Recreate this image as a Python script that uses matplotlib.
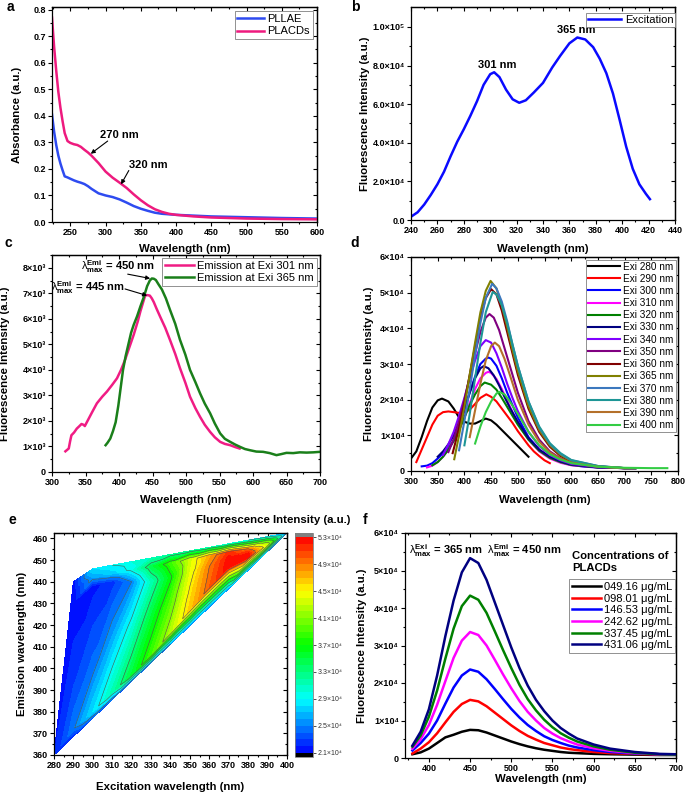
import numpy as np
import matplotlib
matplotlib.use('Agg')
import matplotlib.pyplot as plt
import matplotlib.tri as mtri
from matplotlib.colors import LinearSegmentedColormap

plt.rcParams['font.family'] = ['Liberation Sans', 'DejaVu Sans']
plt.rcParams['mathtext.fontset'] = 'custom'
plt.rcParams['mathtext.rm'] = 'Liberation Sans'
plt.rcParams['mathtext.bf'] = 'Liberation Sans:bold'
plt.rcParams['mathtext.it'] = 'Liberation Sans:italic'
plt.rcParams['axes.linewidth'] = 0.9

# ---------------- data ----------------
# a: absorbance
a_wl = [224, 227, 230, 233, 236, 239, 242, 246, 250, 255, 260, 265, 270, 275, 280, 290, 300, 310,
        320, 330, 340, 350, 360, 370, 380, 390, 400, 425, 450, 500, 550, 600]
a_pllae = [0.405, 0.34, 0.29, 0.25, 0.22, 0.195, 0.172, 0.168, 0.163, 0.157, 0.152, 0.148, 0.143,
           0.135, 0.125, 0.108, 0.1, 0.094, 0.085, 0.073, 0.06, 0.05, 0.042, 0.035, 0.031, 0.029,
           0.027, 0.024, 0.021, 0.018, 0.015, 0.013]
a_placd = [0.77, 0.66, 0.57, 0.49, 0.43, 0.38, 0.335, 0.305, 0.298, 0.293, 0.29, 0.283, 0.272, 0.262,
           0.25, 0.222, 0.19, 0.167, 0.148, 0.128, 0.104, 0.082, 0.063, 0.048, 0.038, 0.031, 0.027,
           0.021, 0.017, 0.013, 0.011, 0.01]

# b: excitation spectrum (x1e4)
b_wl = [240, 245, 250, 255, 260, 265, 270, 275, 280, 285, 290, 295, 300, 303, 307, 312, 317, 322,
        327, 333, 340, 347, 353, 360, 366, 372, 378, 383, 388, 393, 398, 403, 408, 413, 418, 421]
b_int = [0.17, 0.4, 0.8, 1.3, 1.85, 2.5, 3.3, 4.05, 4.7, 5.4, 6.15, 7.0, 7.55, 7.65, 7.4, 6.75,
         6.25, 6.07, 6.2, 6.6, 7.1, 7.9, 8.5, 9.15, 9.45, 9.35, 8.95, 8.35, 7.6, 6.55, 5.2, 3.8,
         2.65, 1.85, 1.35, 1.08]

# c: emission at two excitations (x1e3)
c_wl_301 = [320, 325, 327, 329, 333, 337, 341, 344, 347, 349, 353, 360, 367, 375, 382, 390, 397,
            403, 409, 415, 422, 428, 432, 436, 439, 442, 446, 449, 452, 456, 462, 469, 476, 484,
            491, 499, 506, 514, 521, 528, 536, 543, 551, 558, 566, 573, 580]
c_int_301 = [0.81, 0.92, 1.2, 1.44, 1.55, 1.7, 1.8, 1.88, 1.85, 1.8, 2.0, 2.35, 2.69, 2.95, 3.15,
             3.42, 3.67, 4.0, 4.39, 4.85, 5.38, 5.9, 6.3, 6.65, 6.91, 6.93, 6.91, 6.8, 6.65, 6.4,
             6.05, 5.65, 5.18, 4.62, 4.07, 3.5, 2.95, 2.5, 2.16, 1.85, 1.57, 1.36, 1.18, 1.1, 1.05,
             0.98, 0.92]
c_wl_365 = [380, 383, 387, 391, 395, 399, 402, 406, 410, 414, 418, 422, 427, 432, 437, 442, 446,
            449, 452, 455, 459, 464, 470, 476, 484, 491, 499, 506, 514, 521, 528, 536, 543, 551,
            558, 566, 573, 581, 588, 596, 605, 615, 625, 635, 642, 650, 660, 670, 680, 690, 700]
c_int_365 = [1.05, 1.15, 1.31, 1.6, 1.95, 2.6, 3.2, 4.0, 4.55, 5.0, 5.45, 5.77, 6.1, 6.49, 6.85,
             7.28, 7.5, 7.58, 7.57, 7.52, 7.35, 7.15, 6.8, 6.36, 5.8, 5.18, 4.6, 4.0, 3.52, 3.08,
             2.68, 2.3, 1.9, 1.51, 1.3, 1.18, 1.08, 0.98, 0.9, 0.85, 0.8, 0.79, 0.74, 0.66, 0.7,
             0.75, 0.74, 0.77, 0.76, 0.77, 0.79]

# d: emission at different excitation wavelengths (x1e4)
d_labels = ['Exi 280 nm', 'Exi 290 nm', 'Exi 300 nm', 'Exi 310 nm', 'Exi 320 nm', 'Exi 330 nm',
            'Exi 340 nm', 'Exi 350 nm', 'Exi 360 nm', 'Exi 365 nm', 'Exi 370 nm', 'Exi 380 nm',
            'Exi 390 nm', 'Exi 400 nm']
d_wl = [
    [300, 310, 320, 330, 340, 350, 358, 370, 380, 390, 400, 410, 420, 430, 440, 450, 460, 470, 480,
     490, 500, 510, 520],
    [310, 320, 330, 340, 350, 360, 370, 380, 390, 400, 410, 420, 430, 441, 450, 460, 470, 480, 490,
     500, 510, 520, 530, 540, 550, 560],
    [320, 330, 340, 350, 360, 370, 380, 390, 400, 410, 420, 430, 440, 445, 450, 460, 470, 480, 490,
     500, 520, 540, 560, 580, 600, 625, 650, 700, 720],
    [330, 340, 350, 360, 370, 380, 390, 400, 410, 420, 430, 440, 445, 450, 460, 470, 480, 490, 500,
     520, 540, 560, 580, 600, 650, 700, 720],
    [340, 350, 360, 370, 380, 390, 400, 410, 420, 430, 438, 450, 460, 470, 480, 490, 500, 520, 540,
     560, 580, 600, 650, 700, 720],
    [350, 360, 370, 380, 390, 400, 410, 420, 430, 436, 445, 455, 465, 475, 485, 500, 520, 540, 560,
     580, 600, 650, 700, 720],
    [360, 370, 380, 390, 400, 410, 420, 430, 440, 450, 460, 470, 480, 490, 500, 520, 540, 560, 580,
     600, 650, 700, 720],
    [370, 380, 390, 400, 410, 420, 430, 440, 447, 455, 465, 475, 485, 500, 520, 540, 560, 580, 600,
     650, 700, 720],
    [378, 390, 400, 410, 420, 430, 440, 450, 460, 470, 480, 490, 500, 520, 540, 560, 580, 600, 650,
     700, 720],
    [381, 390, 400, 410, 420, 430, 440, 449, 460, 470, 480, 490, 500, 520, 540, 560, 580, 600, 650,
     700, 720],
    [390, 400, 410, 420, 430, 440, 452, 460, 470, 480, 490, 500, 520, 540, 560, 580, 600, 650, 700,
     720],
    [400, 410, 420, 430, 440, 453, 460, 470, 480, 490, 500, 520, 540, 560, 580, 600, 650, 700, 720],
    [410, 420, 430, 440, 450, 457, 465, 475, 485, 500, 520, 540, 560, 580, 600, 650, 700, 720],
    [420, 430, 440, 450, 460, 465, 475, 485, 500, 520, 540, 560, 580, 600, 650, 700, 750, 780],
]
d_int = [
    [0.35, 0.55, 0.95, 1.4, 1.78, 1.98, 2.03, 1.95, 1.75, 1.5, 1.38, 1.33, 1.33, 1.4, 1.47, 1.42,
     1.3, 1.15, 1.0, 0.85, 0.7, 0.55, 0.4],
    [0.25, 0.6, 0.95, 1.3, 1.55, 1.65, 1.67, 1.65, 1.63, 1.64, 1.72, 1.88, 2.05, 2.15, 2.08, 1.95,
     1.75, 1.55, 1.35, 1.12, 0.92, 0.72, 0.55, 0.42, 0.3, 0.22],
    [0.13, 0.15, 0.22, 0.35, 0.5, 0.65, 0.85, 1.2, 1.7, 2.2, 2.65, 3.0, 3.15, 3.18, 3.15, 2.95, 2.6,
     2.2, 1.85, 1.5, 0.95, 0.6, 0.38, 0.25, 0.17, 0.12, 0.1, 0.08, 0.08],
    [0.1, 0.15, 0.25, 0.4, 0.6, 0.85, 1.15, 1.5, 1.9, 2.3, 2.6, 2.75, 2.78, 2.75, 2.58, 2.3, 1.98,
     1.65, 1.35, 0.88, 0.55, 0.35, 0.23, 0.16, 0.1, 0.08, 0.08],
    [0.16, 0.25, 0.4, 0.6, 0.85, 1.15, 1.5, 1.85, 2.15, 2.38, 2.48, 2.42, 2.28, 2.05, 1.8, 1.55,
     1.3, 0.88, 0.57, 0.37, 0.25, 0.17, 0.1, 0.08, 0.08],
    [0.4, 0.55, 0.75, 1.0, 1.35, 1.75, 2.2, 2.6, 2.88, 2.94, 2.88, 2.68, 2.4, 2.08, 1.78, 1.38,
     0.92, 0.6, 0.4, 0.27, 0.18, 0.1, 0.08, 0.08],
    [0.45, 0.75, 1.1, 1.55, 2.05, 2.6, 3.1, 3.5, 3.67, 3.6, 3.3, 2.9, 2.45, 2.05, 1.68, 1.1, 0.7,
     0.45, 0.3, 0.2, 0.11, 0.08, 0.08],
    [0.53, 0.9, 1.4, 2.0, 2.65, 3.3, 3.9, 4.3, 4.4, 4.3, 3.95, 3.45, 2.95, 2.2, 1.4, 0.88, 0.55,
     0.35, 0.23, 0.12, 0.08, 0.08],
    [0.5, 1.2, 1.9, 2.7, 3.5, 4.3, 4.85, 5.1, 4.95, 4.5, 3.9, 3.3, 2.7, 1.75, 1.1, 0.68, 0.42, 0.27,
     0.13, 0.08, 0.08],
    [0.33, 1.0, 1.8, 2.7, 3.6, 4.45, 5.05, 5.33, 5.12, 4.65, 4.05, 3.4, 2.8, 1.82, 1.15, 0.72, 0.45,
     0.28, 0.13, 0.08, 0.08],
    [0.58, 1.4, 2.3, 3.25, 4.15, 4.85, 5.25, 5.12, 4.75, 4.2, 3.55, 2.95, 1.95, 1.22, 0.76, 0.48,
     0.3, 0.14, 0.08, 0.08],
    [0.72, 1.6, 2.6, 3.6, 4.45, 5.02, 4.95, 4.65, 4.15, 3.55, 2.95, 1.95, 1.25, 0.78, 0.5, 0.31,
     0.14, 0.08, 0.08],
    [0.95, 1.7, 2.45, 3.1, 3.5, 3.6, 3.5, 3.15, 2.7, 2.0, 1.3, 0.82, 0.52, 0.34, 0.23, 0.12, 0.08,
     0.08],
    [0.77, 1.25, 1.65, 1.95, 2.17, 2.22, 2.15, 1.95, 1.6, 1.1, 0.72, 0.47, 0.32, 0.22, 0.12, 0.09,
     0.08, 0.08],
]
d_colors = ['#000000', '#FF0000', '#0000FF', '#FF00FF', '#008000', '#000080', '#8000FF', '#800080',
            '#800000', '#808000', '#3C78BE', '#1E9696', '#B4702A', '#33CC44']

# e: excitation-emission map (x1e4); each excitation column holds six points,
# from the lower (diagonal) edge up to the top edge
e_ex = [280,
        290, 290, 290, 290, 290, 290,
        300, 300, 300, 300, 300, 300,
        310, 310, 310, 310, 310, 310,
        320, 320, 320, 320, 320, 320,
        330, 330, 330, 330, 330, 330,
        340, 340, 340, 340, 340, 340,
        350, 350, 350, 350, 350, 350,
        360, 360, 360, 360, 360, 360,
        370, 370, 370, 370, 370, 370,
        380, 380, 380, 380, 380, 380,
        390, 390, 390, 390, 390, 390,
        400]
e_em = [360,
        368.54, 372, 395, 430, 436, 440,
        377.08, 380, 400, 438, 442, 446,
        385.63, 389, 415, 440, 444, 447.65,
        394.17, 397, 420, 440, 445.5, 449.3,
        402.71, 406, 425, 440, 447, 450.95,
        411.25, 416.3, 430, 442, 448.6, 452.6,
        419.79, 426.8, 435, 444, 450.25, 454.25,
        428.33, 437.3, 442, 447, 451.9, 455.9,
        436.88, 446.9, 449, 451, 453.55, 457.55,
        445.42, 451.4, 452.5, 453.8, 455.2, 459.2,
        453.96, 457, 457.8, 458.5, 459.2, 460.85,
        462.5]
e_val = [2.2,
         2.2, 2.48, 2.27, 2.13, 2.13, 2.13,
         2.35, 2.8, 2.45, 2.16, 2.6, 2.8,
         2.35, 3.14, 2.6, 2.25, 2.75, 2.9,
         2.4, 3.52, 2.98, 2.5, 2.95, 3.0,
         2.45, 3.88, 3.48, 3.1, 3.45, 3.1,
         2.5, 4.25, 3.95, 3.65, 3.85, 3.2,
         2.5, 4.65, 4.55, 4.4, 4.35, 3.2,
         2.5, 5.0, 4.95, 4.9, 4.75, 3.1,
         2.55, 5.28, 5.28, 5.25, 5.15, 3.0,
         2.55, 5.28, 5.28, 5.15, 4.9, 2.9,
         2.5, 4.3, 4.2, 4.0, 3.7, 2.8,
         2.4]
e_cticks = [2.1, 2.5, 2.9, 3.3, 3.7, 4.1, 4.5, 4.9, 5.3]

# f: concentration series (x1e4)
f_wl = [380, 390, 400, 410, 420, 430, 440, 450, 460, 470, 480, 490, 500, 510, 520, 530, 540, 550,
        560, 570, 580, 600, 620, 650, 680, 700]
f_labels = ['049.16 μg/mL', '098.01 μg/mL', '146.53 μg/mL', '242.62 μg/mL', '337.45 μg/mL',
            '431.06 μg/mL']
f_int = [
    [0.1, 0.15, 0.25, 0.4, 0.55, 0.62, 0.7, 0.75, 0.74, 0.68, 0.6, 0.52, 0.44, 0.37, 0.31, 0.26,
     0.22, 0.19, 0.16, 0.14, 0.13, 0.11, 0.1, 0.09, 0.08, 0.08],
    [0.12, 0.25, 0.42, 0.66, 0.95, 1.23, 1.44, 1.55, 1.51, 1.38, 1.21, 1.04, 0.87, 0.72, 0.59, 0.49,
     0.4, 0.34, 0.28, 0.24, 0.21, 0.16, 0.13, 0.11, 0.09, 0.09],
    [0.2, 0.4, 0.65, 1.0, 1.45, 1.88, 2.2, 2.36, 2.3, 2.1, 1.84, 1.57, 1.31, 1.08, 0.88, 0.72, 0.58,
     0.48, 0.4, 0.33, 0.28, 0.21, 0.16, 0.12, 0.1, 0.09],
    [0.25, 0.5, 0.88, 1.42, 2.05, 2.67, 3.13, 3.36, 3.28, 3.0, 2.62, 2.23, 1.86, 1.52, 1.23, 1.0,
     0.8, 0.65, 0.53, 0.44, 0.36, 0.26, 0.19, 0.13, 0.1, 0.09],
    [0.3, 0.6, 1.1, 1.8, 2.65, 3.45, 4.05, 4.33, 4.22, 3.87, 3.38, 2.88, 2.4, 1.95, 1.57, 1.27, 1.02,
     0.82, 0.66, 0.54, 0.44, 0.31, 0.22, 0.14, 0.1, 0.09],
    [0.33, 0.7, 1.3, 2.2, 3.25, 4.2, 4.95, 5.33, 5.2, 4.75, 4.15, 3.55, 2.95, 2.4, 1.93, 1.55, 1.25,
     1.0, 0.8, 0.65, 0.52, 0.36, 0.25, 0.16, 0.11, 0.1],
]
f_colors = ['#000000', '#FF0000', '#0000FF', '#FF00FF', '#008000', '#000080']

# tick labels
b_ylabels = ['0.0', '2.0×10⁴', '4.0×10⁴', '6.0×10⁴', '8.0×10⁴', '1.0×10⁵']
c_ylabels = ['0', '1×10³', '2×10³', '3×10³', '4×10³', '5×10³', '6×10³', '7×10³', '8×10³']
d_ylabels = ['0', '1×10⁴', '2×10⁴', '3×10⁴', '4×10⁴', '5×10⁴', '6×10⁴']

# ---------------- figure ----------------
W, H = 685, 794
fig = plt.figure(figsize=(W / 100, H / 100), dpi=100)


def px_axes(l, t, r, b):
    return fig.add_axes([l / W, 1 - b / H, (r - l) / W, (b - t) / H])


def setup(ax, xlim, ylim, xmaj, xmin, ymaj, ymin, ylabels=None):
    ax.set_xlim(xlim)
    ax.set_ylim(ylim)
    ax.set_xticks(xmaj)
    ax.set_xticks(xmin, minor=True)
    ax.set_yticks(ymaj)
    ax.set_yticks(ymin, minor=True)
    if ylabels is not None:
        ax.set_yticklabels(ylabels)
    ax.tick_params(which='both', direction='out', width=0.8, labelsize=6.5, pad=1.5)
    ax.tick_params(which='major', length=2.8)
    ax.tick_params(which='minor', length=1.6)
    for t in ax.get_xticklabels() + ax.get_yticklabels():
        t.set_fontweight('bold')
    top = ax.secondary_xaxis('top')
    top.set_xticks(xmaj)
    top.set_xticks(xmin, minor=True)
    top.tick_params(which='both', direction='in', labeltop=False, width=0.8)
    top.tick_params(which='major', length=2.8)
    top.tick_params(which='minor', length=1.6)
    right = ax.secondary_yaxis('right')
    right.set_yticks(ymaj)
    right.set_yticks(ymin, minor=True)
    right.tick_params(which='both', direction='in', labelright=False, width=0.8)
    right.tick_params(which='major', length=2.8)
    right.tick_params(which='minor', length=1.6)


def labels(ax, xl, yl, xoff, yoff, size=8.2):
    w = ax.get_position().width * W
    h = ax.get_position().height * H
    ax.set_xlabel(xl, fontsize=size, fontweight='bold', va='center')
    ax.set_ylabel(yl, fontsize=size, fontweight='bold', va='center')
    ax.xaxis.set_label_coords(0.5, -xoff / h)
    ax.yaxis.set_label_coords(-yoff / w, 0.5)


leg_kw = dict(fancybox=False, framealpha=1, edgecolor='#808080', borderpad=0.25,
              handletextpad=0.3, borderaxespad=0.4)

# ---- a ----
ax = px_axes(52, 7, 317, 222)
ax.plot(a_wl, a_pllae, color='#2E4BF0', lw=1.8, label='PLLAE')
ax.plot(a_wl, a_placd, color='#EE1A7E', lw=1.8, label='PLACDs')
setup(ax, (224, 600), (0, 0.81), np.arange(250, 601, 50), np.arange(225, 601, 25),
      np.arange(0, 0.81, 0.1), np.arange(0, 0.81, 0.05),
      ['0.0', '0.1', '0.2', '0.3', '0.4', '0.5', '0.6', '0.7', '0.8'])
labels(ax, 'Wavelength (nm)', 'Absorbance (a.u.)', 27, 35)
lg = ax.legend(loc='upper right', fontsize=8, handlelength=2.4, labelspacing=0.2, **leg_kw)
lg.get_frame().set_linewidth(0.6)
arrow = dict(arrowstyle='-|>', color='black', lw=0.8, mutation_scale=6, shrinkA=0, shrinkB=0)
ax.annotate('', xy=(279, 0.257), xytext=(303, 0.305), arrowprops=arrow)
ax.text(320, 0.326, '270 nm', fontsize=8, fontweight='bold', ha='center', va='center')
ax.annotate('', xy=(322, 0.142), xytext=(333, 0.194), arrowprops=arrow)
ax.text(360, 0.213, '320 nm', fontsize=8, fontweight='bold', ha='center', va='center')

# ---- b ----
ax = px_axes(411, 7, 675, 220)
ax.plot(b_wl, np.array(b_int) * 1e4, color='#0A0AFF', lw=1.8, label='Excitation')
setup(ax, (240, 440), (0, 1.103e5), np.arange(240, 441, 20), np.arange(240, 441, 10),
      np.arange(0, 1.01e5, 2e4), np.arange(0, 1.1e5, 1e4), b_ylabels)
labels(ax, 'Wavelength (nm)', 'Fluorescence Intensity (a.u.)', 29, 46)
lg = ax.legend(loc='upper right', fontsize=8, handlelength=3.0, labelspacing=0.2,
               bbox_to_anchor=(1.0, 0.97), **{**leg_kw, 'borderaxespad': 0.0, 'borderpad': 0.15})
lg.get_frame().set_linewidth(0.6)
ax.text(305.6, 8.05e4, '301 nm', fontsize=8, fontweight='bold', ha='center', va='center')
ax.text(365.4, 9.86e4, '365 nm', fontsize=8, fontweight='bold', ha='center', va='center')

# ---- c ----
ax = px_axes(52, 255, 320, 472)
ax.plot(c_wl_301, np.array(c_int_301) * 1e3, color='#F01C84', lw=1.8, label='Emission at Exi 301 nm')
ax.plot(c_wl_365, np.array(c_int_365) * 1e3, color='#1A7F1A', lw=1.8, label='Emission at Exi 365 nm')
setup(ax, (300, 700), (0, 8.5e3), np.arange(300, 701, 50), np.arange(300, 701, 25),
      np.arange(0, 8.1e3, 1e3), np.arange(0, 8.6e3, 500), c_ylabels)
labels(ax, 'Wavelength (nm)', 'Fluorescence Intensity (a.u.)', 28, 47)
lg = ax.legend(loc='upper right', fontsize=8, handlelength=2.6, labelspacing=0.15,
               **{**leg_kw, 'borderaxespad': 0.3})
lg.get_frame().set_linewidth(0.6)
ax.annotate('', xy=(446.5, 7.58e3), xytext=(413, 7.75e3), arrowprops=arrow)
ax.text(454, 8.06e3, r'$\mathrm{λ}_{\mathbf{max}}^{\mathbf{Emi}}$ = 450 nm', fontsize=8,
        fontweight='bold', ha='right', va='center')
ax.annotate('', xy=(442, 6.91e3), xytext=(409, 7.17e3), arrowprops=arrow)
ax.text(409, 7.23e3, r'$\mathrm{λ}_{\mathbf{max}}^{\mathbf{Emi}}$ = 445 nm', fontsize=8,
        fontweight='bold', ha='right', va='center')

# ---- d ----
ax = px_axes(411, 257, 678, 471)
for wl, it, lab, col in zip(d_wl, d_int, d_labels, d_colors):
    ax.plot(wl, np.array(it) * 1e4, color=col, lw=1.5, label=lab)
setup(ax, (300, 800), (0, 6e4), np.arange(300, 801, 50), np.arange(300, 801, 25),
      np.arange(0, 6.1e4, 1e4), np.arange(0, 6.1e4, 5e3), d_ylabels)
labels(ax, 'Wavelength (nm)', 'Fluorescence Intensity (a.u.)', 29, 42)
lg = ax.legend(loc='upper right', fontsize=7.2, handlelength=3.2, labelspacing=0.22,
               **{**leg_kw, 'borderaxespad': 0.25, 'borderpad': 0.2})
lg.get_frame().set_linewidth(0.6)

# ---- e ----
ax = px_axes(54, 533, 287, 755)
cmap = LinearSegmentedColormap.from_list('rainbow_origin',
                                         ['#0000FF', '#00FFFF', '#00FF00', '#FFFF00', '#FF0000'])
cmap.set_under('#000000')
cmap.set_over('#808080')
# triangles join neighbouring excitation columns point by point
ex_arr = np.array(e_ex)
cols = [np.where(ex_arr == v)[0] for v in sorted(set(e_ex))]
triangles = []
for ca, cb_ in zip(cols[:-1], cols[1:]):
    if len(ca) == 1:
        for k in range(len(cb_) - 1):
            triangles.append([ca[0], cb_[k], cb_[k + 1]])
    elif len(cb_) == 1:
        for k in range(len(ca) - 1):
            triangles.append([ca[k], cb_[0], ca[k + 1]])
    else:
        for k in range(len(ca) - 1):
            triangles.append([ca[k], cb_[k], cb_[k + 1]])
            triangles.append([ca[k], cb_[k + 1], ca[k + 1]])
tri = mtri.Triangulation(e_ex, e_em, triangles)
z = np.array(e_val) * 1e4
levels = np.linspace(2.1e4, 5.3e4, 33)
cs = ax.tricontourf(tri, z, levels=levels, cmap=cmap, extend='both')
ax.tricontour(tri, z, levels=np.array(e_cticks[1:-1]) * 1e4, colors='#505050', linewidths=0.4)
setup(ax, (280, 400), (360, 462.5), np.arange(280, 401, 10), np.arange(280, 401, 5),
      np.arange(360, 461, 10), np.arange(360, 463, 5))
labels(ax, 'Excitation wavelength (nm)', 'Emission wavelength (nm)', 32, 32)
cax = px_axes(295, 533, 313, 757)
cb = fig.colorbar(cs, cax=cax, extendrect=True, extendfrac=0.02)
cb.set_ticks(np.array(e_cticks) * 1e4)
cb.set_ticklabels(['%.1f×10⁴' % v for v in e_cticks])
cb.ax.tick_params(labelsize=5, length=2, width=0.6, pad=1.5, colors='#333333')
cb.outline.set_edgecolor('#808080')
cb.outline.set_linewidth(0.6)
fig.text(273 / W, 1 - 520 / H, 'Fluorescence Intensity (a.u.)', fontsize=8.2, fontweight='bold',
         ha='center', va='center')

# ---- f ----
ax = px_axes(405, 533, 676, 758)
for it, lab, col in zip(f_int, f_labels, f_colors):
    ax.plot(f_wl, np.array(it) * 1e4, color=col, lw=1.8, label=lab)
setup(ax, (371, 700), (0, 6e4), np.arange(400, 701, 50), np.arange(375, 701, 25),
      np.arange(0, 6.1e4, 1e4), np.arange(0, 6.1e4, 5e3), d_ylabels)
labels(ax, 'Wavelength (nm)', 'Fluorescence Intensity (a.u.)', 21, 43)
lg = ax.legend(loc='upper right', fontsize=8, handlelength=2.6, labelspacing=0.15,
               bbox_to_anchor=(0.997, 0.795), **{**leg_kw, 'borderaxespad': 0.0})
lg.get_frame().set_linewidth(0.6)
ax.text(0.015, 0.92, r'$\mathrm{λ}_{\mathbf{max}}^{\mathbf{Exi}}$ = 365 nm  '
        r'$\mathrm{λ}_{\mathbf{max}}^{\mathbf{Emi}}$ = 450 nm',
        transform=ax.transAxes, fontsize=8, fontweight='bold', ha='left', va='center')
ax.text(0.618, 0.92, 'Concentrations of\nPLACDs', transform=ax.transAxes, fontsize=8.1,
        fontweight='bold', ha='left', va='top', linespacing=1.25)

# panel letters
for letter, x, y in [('a', 10, 7), ('b', 355, 7), ('c', 8, 243), ('d', 355, 243),
                     ('e', 12, 520), ('f', 365, 520)]:
    fig.text(x / W, 1 - y / H, letter, fontsize=10, fontweight='bold', ha='center', va='center')

fig.savefig('out.png', dpi=100)
